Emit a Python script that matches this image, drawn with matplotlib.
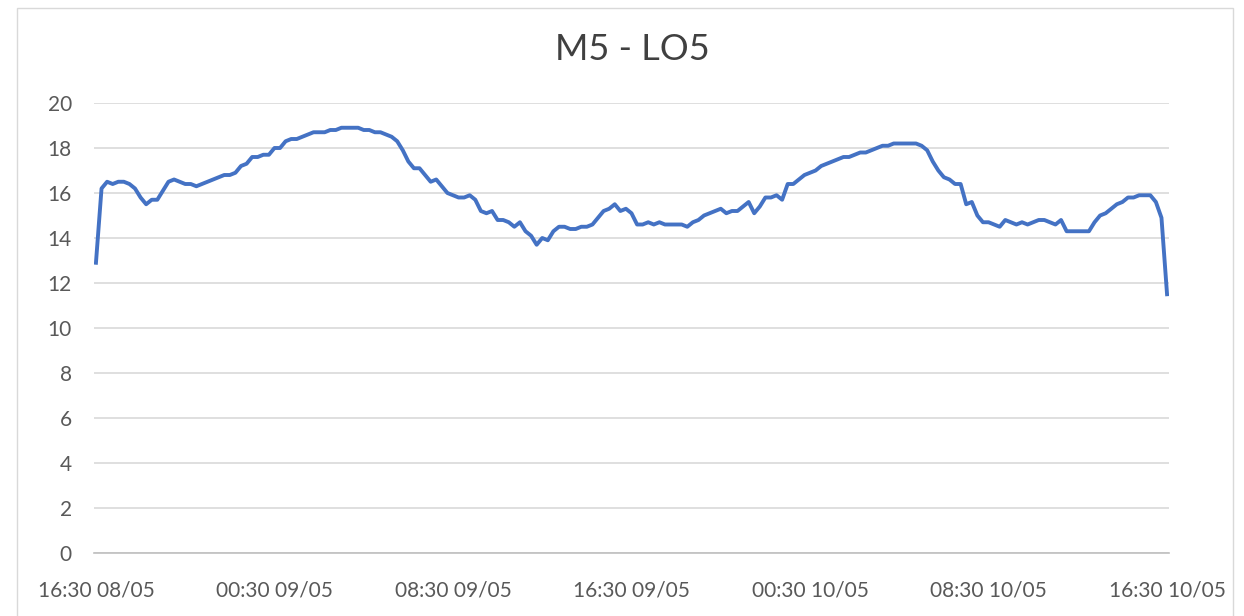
"""
M5 - LO5 line chart
"""
import pandas as pd
import matplotlib.pyplot as plt
from matplotlib.patches import Rectangle

# readings every 15 minutes, 16:30 08/05 -> 16:30 10/05
start = '2021-05-08 16:30'
step = '15min'
values = [
    12.9, 16.2, 16.5, 16.4, 16.5, 16.5, 16.4, 16.2, 15.8, 15.5,
    15.7, 15.7, 16.1, 16.5, 16.6, 16.5, 16.4, 16.4, 16.3, 16.4,
    16.5, 16.6, 16.7, 16.8, 16.8, 16.9, 17.2, 17.3, 17.6, 17.6,
    17.7, 17.7, 18.0, 18.0, 18.3, 18.4, 18.4, 18.5, 18.6, 18.7,
    18.7, 18.7, 18.8, 18.8, 18.9, 18.9, 18.9, 18.9, 18.8, 18.8,
    18.7, 18.7, 18.6, 18.5, 18.3, 17.9, 17.4, 17.1, 17.1, 16.8,
    16.5, 16.6, 16.3, 16.0, 15.9, 15.8, 15.8, 15.9, 15.7, 15.2,
    15.1, 15.2, 14.8, 14.8, 14.7, 14.5, 14.7, 14.3, 14.1, 13.7,
    14.0, 13.9, 14.3, 14.5, 14.5, 14.4, 14.4, 14.5, 14.5, 14.6,
    14.9, 15.2, 15.3, 15.5, 15.2, 15.3, 15.1, 14.6, 14.6, 14.7,
    14.6, 14.7, 14.6, 14.6, 14.6, 14.6, 14.5, 14.7, 14.8, 15.0,
    15.1, 15.2, 15.3, 15.1, 15.2, 15.2, 15.4, 15.6, 15.1, 15.4,
    15.8, 15.8, 15.9, 15.7, 16.4, 16.4, 16.6, 16.8, 16.9, 17.0,
    17.2, 17.3, 17.4, 17.5, 17.6, 17.6, 17.7, 17.8, 17.8, 17.9,
    18.0, 18.1, 18.1, 18.2, 18.2, 18.2, 18.2, 18.2, 18.1, 17.9,
    17.4, 17.0, 16.7, 16.6, 16.4, 16.4, 15.5, 15.6, 15.0, 14.7,
    14.7, 14.6, 14.5, 14.8, 14.7, 14.6, 14.7, 14.6, 14.7, 14.8,
    14.8, 14.7, 14.6, 14.8, 14.3, 14.3, 14.3, 14.3, 14.3, 14.7,
    15.0, 15.1, 15.3, 15.5, 15.6, 15.8, 15.8, 15.9, 15.9, 15.9,
    15.6, 14.9, 11.5,
]
title = 'M5 - LO5'
label_every = 32  # 8 hours
y_ticks = list(range(0, 21, 2))


def main():
    plt.rcParams['font.family'] = ['Lato', 'DejaVu Sans']
    times = pd.date_range(start, periods=len(values), freq=step)
    s = pd.Series(values, index=times)

    fig = plt.figure(figsize=(12.44, 6.16), dpi=100)
    fig.patches.append(Rectangle((17 / 1244, -0.01), 1216 / 1244, 1 - 8 / 616 + 0.01,
                                 transform=fig.transFigure, fill=False,
                                 edgecolor='#d9d9d9', linewidth=1))
    ax = fig.add_axes([94 / 1244, 1 - 553 / 616, 1075 / 1244, 450 / 616])

    x = list(range(len(s)))
    ax.plot(x, s.values, color='#4472C4', linewidth=2.8, solid_joinstyle='round')

    ax.set_ylim(0, 20)
    ax.set_xlim(-0.35, len(s) - 1 + 0.35)
    ax.set_yticks(y_ticks)
    ax.set_yticklabels([str(v) for v in y_ticks])
    pos = x[::label_every]
    ax.set_xticks(pos)
    ax.set_xticklabels([times[p].strftime('%H:%M %d/%m') for p in pos])

    ax.grid(axis='y', color='#d9d9d9', linewidth=1.2)
    ax.set_axisbelow(True)
    for side in ('top', 'right', 'left'):
        ax.spines[side].set_visible(False)
    ax.spines['bottom'].set_color('#bfbfbf')
    ax.spines['bottom'].set_linewidth(1.2)
    ax.tick_params(length=0, labelsize=15, labelcolor='#595959')
    ax.tick_params(axis='x', pad=20)
    ax.tick_params(axis='y', pad=16)

    fig.text(632 / 1244, 1 - 49 / 616, title, ha='center', va='center',
             fontsize=26, color='#404040')

    fig.savefig('out.png', dpi=100)


if __name__ == "__main__":
    main()
